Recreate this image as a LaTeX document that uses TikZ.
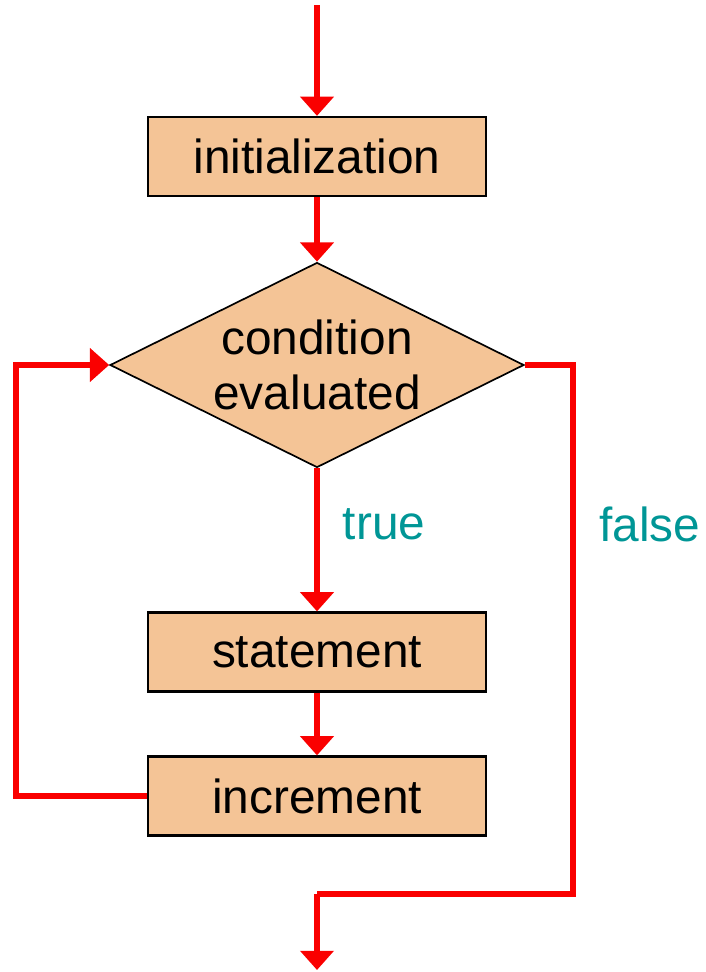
\documentclass[tikz,border=0pt]{standalone}
\usepackage{fontspec}
\setmainfont{Liberation Sans}
\usepackage{xcolor}
\usepackage{tikz}
\usetikzlibrary{shapes.geometric, positioning, arrows.meta, calc}

\definecolor{boxfill}{RGB}{244,196,150}
\definecolor{flowred}{RGB}{250,0,0}
\definecolor{labteal}{RGB}{0,150,150}

\begin{document}
\begin{tikzpicture}[
    stepbox/.style={draw=black, line width=1.6pt, fill=boxfill, minimum width=8.45cm, minimum height=1.975cm, inner sep=0pt, font=\fontsize{34}{39}\selectfont},
    decide/.style={diamond, draw=black, line width=1.2pt, fill=boxfill, aspect=2, minimum width=10.35cm, minimum height=5.125cm, inner sep=0pt, align=center, font=\fontsize{34}{39}\selectfont},
    flow/.style={draw=flowred, line width=4.3pt, -{Triangle[width=0.82cm, length=0.48cm]}},
    line/.style={draw=flowred, line width=4.3pt},
    lab/.style={text=labteal, font=\fontsize{34}{39}\selectfont}
]
    \useasboundingbox (0, 0) rectangle (17.65, -24.3);

    % Nodes
    \coordinate (start) at (7.925, -0.125);
    \node[stepbox] (init) at (7.925, -3.9125) {initialization};
    \node[decide] (cond) at (7.925, -9.125) {condition\\evaluated};
    \node[stepbox] (stmt) at (7.925, -16.3) {statement};
    \node[stepbox] (incr) at (7.925, -19.9) {increment};

    % Bend points
    \coordinate (loopL) at (0.4, -19.9);
    \coordinate (loopT) at (0.4, -9.125);
    \coordinate (falseR) at (14.325, -9.125);
    \coordinate (falseB) at (14.325, -22.35);
    \coordinate (exitB) at (7.925, -22.35);
    \coordinate (stop) at (7.925, -24.25);

    % Main flow
    \draw[flow] (start) -- (init.north);
    \draw[flow] (init.south) -- (cond.north);
    \draw[flow] (cond.south) -- (stmt.north);
    \draw[flow] (stmt.south) -- (incr.north);

    % Loop back
    \draw[flow] (incr.west) -- (loopL) -- (loopT) -- (cond.west);

    % Exit
    \draw[line] (cond.east) -- (falseR) -- (falseB) -- (exitB);
    \draw[flow] (exitB) -- (stop);

    % Labels
    \node[lab] (truelab) at (9.6, -13.1) {true};
    \node[lab] (falselab) at (16.25, -13.1) {false};
\end{tikzpicture}
\end{document}
